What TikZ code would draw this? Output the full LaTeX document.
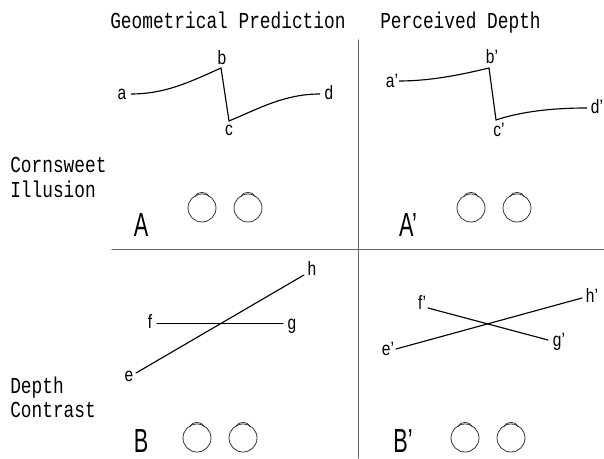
\documentclass[tikz,border=0pt]{standalone}
\usepackage{fontspec}
\setmainfont{Liberation Sans}
\setmonofont{Liberation Mono}
\usepackage{tkz-euclide}
\tikzset{
  lbl/.style={font=\fontsize{11}{11}\selectfont, xscale=0.8, inner sep=0pt},
  headlbl/.style={font=\ttfamily\fontsize{13}{13}\selectfont, xscale=0.78, inner sep=0pt, anchor=base west},
  bigletter/.style={font=\fontsize{19}{19}\selectfont, xscale=0.65, inner sep=0pt},
  eyeball/.pic={
    \draw[line width=0.45pt, black!80] (0,0) circle (0.14);
    \draw[line width=0.45pt, black!80] (-0.07,0.115) .. controls (-0.05,0.17) and (0.05,0.17) .. (0.07,0.115);
  }
}
\begin{document}
\begin{tikzpicture}[scale=2]
            \useasboundingbox (0,0) rectangle (6.04,4.58);
            \tkzDefPoints{1.31/3.64/a, 2.21/3.90/b, 2.29/3.37/c, 3.20/3.64/d}
            \tkzDefPoints{3.99/3.77/ap, 4.89/3.90/bp, 4.96/3.38/cp, 5.87/3.50/dp}
            \tkzDefPoints{1.36/0.85/e, 1.57/1.345/f, 2.83/1.345/g, 3.04/1.83/h}
            \tkzDefPoints{3.96/1.09/ep, 4.28/1.50/fp, 5.48/1.18/gp, 5.82/1.60/hp}
            \tkzDefPoints{3.585/4.18/T, 3.585/0/U, 1.12/2.085/L, 6.04/2.085/R}
            \tkzDrawSegments[black!60, line width=0.6pt](T,U L,R)
            \draw[line width=0.65pt] (a) .. controls (1.65,3.64) and (1.90,3.76) .. (b) -- (c) .. controls (2.60,3.50) and (2.85,3.64) .. (d);
            \draw[line width=0.65pt] (ap) .. controls (4.30,3.77) and (4.60,3.83) .. (bp) -- (cp) .. controls (5.20,3.46) and (5.50,3.50) .. (dp);
            \tkzDrawSegments[black, line width=0.65pt](e,h f,g ep,hp fp,gp)
            \node[lbl] (la) at (1.22,3.64) {a};
            \node[lbl] (lb) at (2.22,4.00) {b};
            \node[lbl] (lc) at (2.29,3.28) {c};
            \node[lbl] (ld) at (3.29,3.65) {d};
            \node[lbl] (lap) at (3.92,3.77) {a'};
            \node[lbl] (lbp) at (4.92,4.01) {b'};
            \node[lbl] (lcp) at (4.99,3.28) {c'};
            \node[lbl] (ldp) at (5.97,3.51) {d'};
            \node[lbl] (le) at (1.29,0.82) {e};
            \node[lbl] (lf) at (1.50,1.36) {f};
            \node[lbl] (lg) at (2.92,1.32) {g};
            \node[lbl] (lh) at (3.12,1.89) {h};
            \node[lbl] (lep) at (3.88,1.09) {e'};
            \node[lbl] (lfp) at (4.22,1.55) {f'};
            \node[lbl] (lgp) at (5.59,1.16) {g'};
            \node[lbl] (lhp) at (5.92,1.63) {h'};
            \node[bigletter] (panelA) at (1.41,2.33) {A};
            \node[bigletter] (panelAp) at (4.08,2.33) {A'};
            \node[bigletter] (panelB) at (1.41,0.17) {B};
            \node[bigletter] (panelBp) at (4.03,0.17) {B'};
            \foreach \ex/\ey in {2.02/2.50, 2.48/2.50, 4.71/2.50, 5.17/2.50, 1.97/0.20, 2.43/0.20, 4.65/0.20, 5.11/0.20}
              \pic[transform shape] at (\ex,\ey) {eyeball};
            \node[headlbl] (headA) at (1.10,4.29) {Geometrical Prediction};
            \node[headlbl] (headB) at (3.80,4.29) {Perceived Depth};
            \node[headlbl] (rowA1) at (0.10,2.85) {Cornsweet};
            \node[headlbl] (rowA2) at (0.10,2.60) {Illusion};
            \node[headlbl] (rowB1) at (0.10,0.645) {Depth};
            \node[headlbl] (rowB2) at (0.10,0.405) {Contrast};
        \end{tikzpicture}
\end{document}
